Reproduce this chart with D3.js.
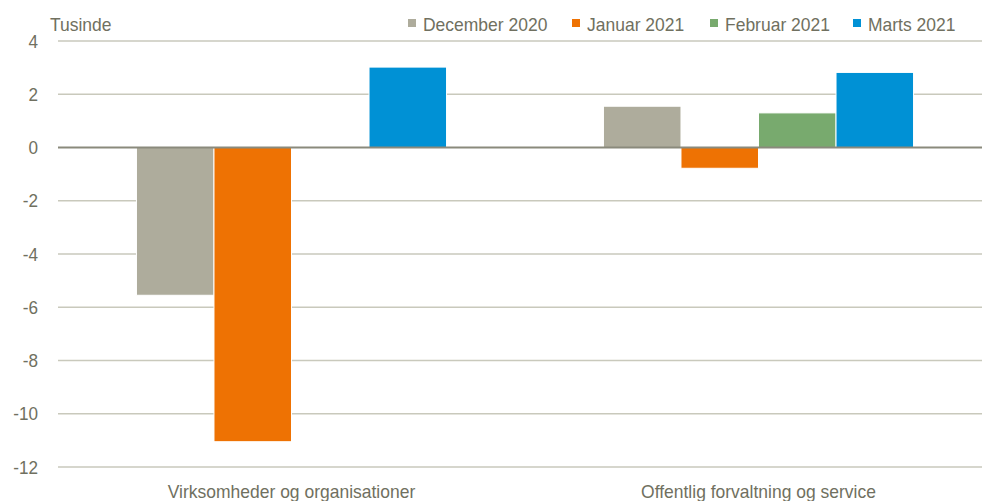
<!DOCTYPE html>
<html lang="da">
<head>
    <meta charset="UTF-8">
    <title>Tusinde</title>
    <script src="https://d3js.org/d3.v7.min.js"></script>
    <style>
        body { margin: 0; background: #fff; overflow: hidden; }
        svg { display: block; }
        text { font-family: "Liberation Sans", Arial, sans-serif; fill: #707060; font-size: 19px; }
    </style>
</head>
<body>
    <svg width="982" height="501"></svg>
    <script>
        // data
        const categories = ["Virksomheder og organisationer", "Offentlig forvaltning og service"];
        const seriesNames = ["December 2020", "Januar 2021", "Februar 2021", "Marts 2021"];
        const seriesColors = ["#aeac9c", "#ee7203", "#78aa6e", "#0091d5"];
        const dec2020 = [-5.55, 1.55];
        const jan2021 = [-11.05, -0.78];
        const feb2021 = [null, 1.3];
        const mar2021 = [3.02, 2.82];
        const yTicks = [4, 2, 0, -2, -4, -6, -8, -10, -12];

        const values = [dec2020, jan2021, feb2021, mar2021];
        const rows = [];
        categories.forEach((c, i) => {
            seriesNames.forEach((s, j) => {
                if (values[j][i] !== null) rows.push({ cat: c, series: s, value: values[j][i], color: seriesColors[j] });
            });
        });

        // the source font is a narrow one, squeeze the glyphs a bit
        function squeeze(sel, k) {
            sel.each(function() {
                const w = this.getComputedTextLength();
                d3.select(this).attr("textLength", w * k).attr("lengthAdjust", "spacingAndGlyphs");
            });
        }

        const svg = d3.select("svg");
        const x0 = d3.scaleBand().domain(categories).range([58, 992]).paddingInner(0.336).paddingOuter(0.168);
        const x1 = d3.scaleBand().domain(seriesNames).range([0, x0.bandwidth()]);
        const y = d3.scaleLinear().domain([-12, 4]).range([467, 41]);

        // gridlines
        svg.append("g").selectAll("line")
            .data(yTicks.filter(d => d !== 0))
            .enter().append("line")
            .attr("x1", 58).attr("x2", 982)
            .attr("y1", d => y(d)).attr("y2", d => y(d))
            .attr("stroke", "#c9c9bc").attr("stroke-width", 1.3);

        // y axis labels
        const yAxis = d3.axisLeft(y).tickValues(yTicks).tickSize(0).tickPadding(20).tickFormat(d => String(d));
        svg.append("g")
            .attr("transform", "translate(58,0)")
            .call(yAxis)
            .call(g => g.select(".domain").remove())
            .call(g => g.selectAll("text").style("font-size", "19px").attr("fill", "#707060")
                .style("font-family", "'Liberation Sans', Arial, sans-serif")
                .call(squeeze, 0.9));

        // bars
        svg.append("g").selectAll("rect")
            .data(rows)
            .enter().append("rect")
            .attr("x", d => x0(d.cat) + x1(d.series))
            .attr("width", x1.bandwidth())
            .attr("y", d => y(Math.max(0, d.value)))
            .attr("height", d => Math.abs(y(d.value) - y(0)))
            .attr("fill", d => d.color)
            .attr("stroke", "#fff").attr("stroke-width", 1);

        // zero line
        svg.append("line")
            .attr("x1", 58).attr("x2", 982)
            .attr("y1", y(0)).attr("y2", y(0))
            .attr("stroke", "#8a8a7c").attr("stroke-width", 1.8);

        // category labels
        svg.append("g").selectAll("text")
            .data(categories)
            .enter().append("text")
            .attr("x", d => x0(d) + x0.bandwidth() / 2)
            .attr("y", 498)
            .attr("text-anchor", "middle")
            .text(d => d)
            .call(squeeze, 0.92);

        // unit label
        svg.append("text").attr("x", 50).attr("y", 31).text("Tusinde").call(squeeze, 0.92);

        // legend
        const legendX = [408, 572, 710, 853];
        const legend = svg.append("g").selectAll("g")
            .data(seriesNames)
            .enter().append("g")
            .attr("transform", (d, i) => `translate(${legendX[i]},0)`);
        legend.append("rect")
            .attr("x", 0).attr("y", 19).attr("width", 8).attr("height", 8)
            .attr("fill", (d, i) => seriesColors[i]);
        legend.append("text")
            .attr("x", 15).attr("y", 31)
            .text(d => d)
            .call(squeeze, 0.92);
    </script>
</body>
</html>
